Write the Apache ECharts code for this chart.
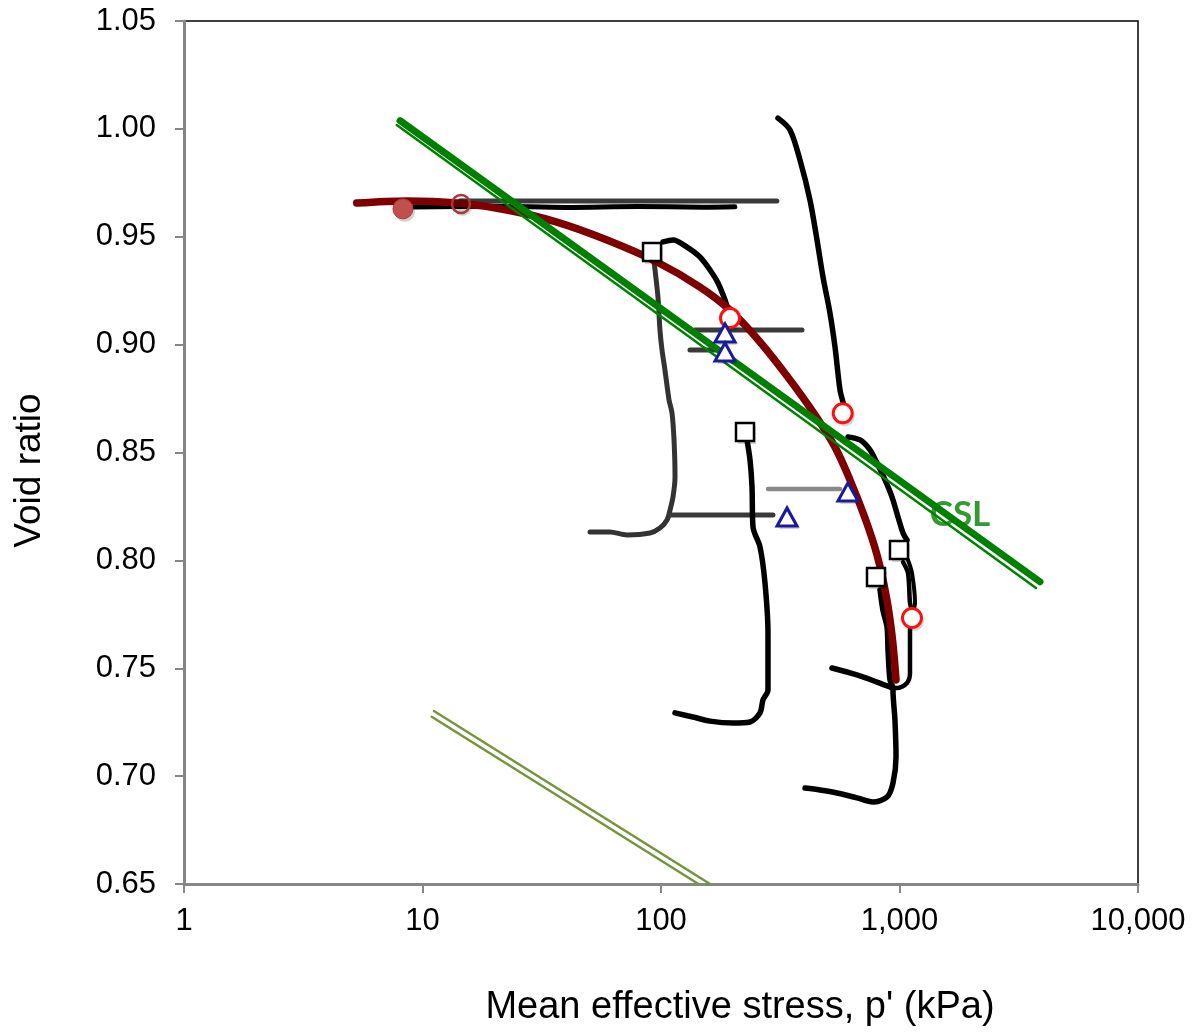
<!DOCTYPE html>
<html>
<head>
<meta charset="utf-8">
<script src="https://cdn.jsdelivr.net/npm/echarts@6/dist/echarts.min.js"></script>
<style>
html,body{margin:0;padding:0;background:#fff;}
#chart{width:1194px;height:1035px;}
</style>
</head>
<body>
<div id="chart"></div>
<script>
// ---- data (p' in kPa, void ratio e) ----
const xTickValues = [1, 10, 100, 1000, 10000];
const yMin = 0.65, yMax = 1.05, yStep = 0.05;

const redCurve = [[5.3,0.9656],[8.6,0.9666],[14,0.9656],[22.6,0.9624],[36.6,0.9568],[59.4,0.9485],[96.2,0.9383],[145.7,0.9267],[194.7,0.916],[260.1,0.9012],[347.5,0.8836],[442.3,0.8674],[536.5,0.8525],[620,0.8373],[716.8,0.8196],[805,0.8025],[878,0.784],[930,0.7654],[967,0.7446]];
const cslThick = [[8.05,1.0038],[3882,0.7901]];
const cslThin = [[7.80,1.0018],[3735,0.7872]];
const cslLabelPos = [[1794,0.821]];
const oliveUpper = [[11.17,0.7302],[160.6,0.65]];
const oliveLower = [[10.93,0.7275],[143.6,0.65]];

const grayTop = [[14.36,0.9666],[306,0.9666]];
const blackTop = [[9.12,0.9638],[20,0.9641],[40,0.9636],[80,0.9640],[150,0.9637],[204,0.9639]];
const pathB1 = [[102,0.9476],[112.3,0.9485],[128.5,0.9452],[145.7,0.9406],[160.5,0.9346],[173.4,0.9286],[185.5,0.9207],[190.9,0.916],[194.7,0.9123]];
const pathB2 = [[93.5,0.9383],[94.4,0.9346],[97.1,0.9221],[99.0,0.9068],[101,0.8975],[103.9,0.8882],[108.1,0.8743],[111.2,0.8683],[113.4,0.8558],[114.5,0.8386],[112.3,0.8294],[109.1,0.8233],[106,0.8187],[99,0.815],[89.9,0.8127],[72,0.8118],[61.1,0.8132],[50.4,0.8132]];
const grayMid = [[109.1,0.821],[294.8,0.821]];
const pathC = [[229.4,0.8558],[236.2,0.8465],[240.8,0.834],[243.1,0.8155],[260.1,0.8062],[272.9,0.7895],[280.9,0.7663],[280.9,0.7399],[267.7,0.7353],[260.1,0.7293],[236.2,0.7251],[200.4,0.7246],[160.5,0.7255],[136.2,0.7274],[114.5,0.7293]];
const grayD1 = [[138.8,0.9068],[390,0.9068]];
const grayD2 = [[132.3,0.8975],[168.4,0.8975]];
const lightGrayE = [[280.9,0.8331],[563,0.8331]];
const pathF1 = [[309.4,1.005],[347.5,0.9995],[382.6,0.9856],[421.4,0.967],[451,0.9485],[477.8,0.9313],[511,0.9147],[536.5,0.8989],[563,0.879],[579.6,0.8734]];
const pathF2 = [[608.2,0.8572],[683,0.8558],[752,0.8512],[805,0.8451],[869.6,0.8373],[930,0.8294],[985.6,0.8201],[1034.4,0.8127],[1075,0.8094]];
const pathF3a = [[1034.4,0.7992],[1085.5,0.7941],[1106.6,0.7802],[1128.4,0.7761],[1128,0.7733],[1106.6,0.7677],[1106.6,0.7478],[1075,0.7432],[976,0.7408],[939,0.7408]];
const pathF3b = [[1085.5,0.8002],[1128.4,0.7941],[1161.4,0.7802],[1139.4,0.7761]];
const pathF4 = [[828.5,0.7863],[853,0.7767],[886.5,0.7691],[895,0.7585],[912,0.7446],[939,0.7408],[939,0.7399],[957,0.726],[967,0.7089],[939,0.6968],[886.5,0.6903],[774,0.688],[663,0.6899],[547,0.6922],[464,0.6936],[401.6,0.6945]];
const pathF5 = [[521,0.7501],[663,0.7469],[805,0.7436],[939,0.7408]];

const squares = [[91.7,0.9429],[225,0.8595],[995,0.8048],[797,0.7923]];
const redCircles = [[194.7,0.9123],[578,0.8682],[1128,0.7733]];
const triangles = [[185.5,0.9054],[185.5,0.8966],[337.6,0.8201],[608,0.8317]];
const filledCircle = [[8.28,0.9629]];
const openDarkCircle = [[14.5,0.9652]];

// ---- chart ----
const FONT = '"Liberation Sans", Arial, sans-serif';
function pathSeries(data, color, width, z) {
  return { type: 'line', data: data, symbol: 'none', smooth: 0.3, z: z || 3,
    lineStyle: { color: color, width: width, cap: 'round', join: 'round' }, silent: true, animation: false };
}
function shadowSeries(data, symbol, size) {
  return { type: 'scatter', data: data, symbol: symbol, symbolSize: size, symbolOffset: [2, 3], z: 6, silent: true,
    itemStyle: { color: 'rgba(0,0,0,0.15)', opacity: 1, shadowBlur: 5, shadowColor: 'rgba(0,0,0,0.35)' } };
}
function markerSeries(data, symbol, size, style) {
  return { type: 'scatter', data: data, symbol: symbol, symbolSize: size, z: 7, silent: true,
    itemStyle: Object.assign({ opacity: 1 }, style) };
}

const chart = echarts.init(document.getElementById('chart'), null, { renderer: 'canvas' });
chart.setOption({
  animation: false,
  backgroundColor: '#fff',
  grid: { left: 184, right: 56, top: 21, bottom: 151, show: true, borderColor: '#000', borderWidth: 1.5, backgroundColor: 'transparent' },
  xAxis: {
    type: 'log', logBase: 10, min: xTickValues[0], max: xTickValues[xTickValues.length - 1],
    axisLine: { lineStyle: { color: '#868686', width: 3 } },
    axisTick: { show: true, inside: false, length: 9, lineStyle: { color: '#868686', width: 2 } },
    minorTick: { show: false },
    splitLine: { show: false },
    axisLabel: { color: '#000', fontFamily: FONT, fontSize: 31, margin: 22,
      formatter: v => Number(v).toLocaleString('en-US') },
    name: "Mean effective stress, p' (kPa)", nameLocation: 'middle', nameGap: 105,
    nameTextStyle: { color: '#000', fontFamily: FONT, fontSize: 38, padding: [0, 0, 0, 158] }
  },
  yAxis: {
    type: 'value', min: yMin, max: yMax, interval: yStep,
    axisLine: { show: true, lineStyle: { color: '#868686', width: 3 } },
    axisTick: { show: true, inside: false, length: 9, lineStyle: { color: '#868686', width: 2 } },
    splitLine: { show: false },
    axisLabel: { color: '#000', fontFamily: FONT, fontSize: 31, margin: 28,
      formatter: v => Number(v).toFixed(2) },
    name: 'Void ratio', nameLocation: 'middle', nameGap: 136, nameRotate: 90,
    nameTextStyle: { color: '#000', fontFamily: FONT, fontSize: 37, padding: [0, 36, 0, 0] }
  },
  series: [
    pathSeries(oliveUpper, '#77933C', 2.5, 2),
    pathSeries(oliveLower, '#77933C', 2.5, 2),
    pathSeries(grayTop, '#3a3a3a', 5, 3),
    pathSeries(blackTop, '#000', 5, 3),
    pathSeries(pathB1, '#000', 5.5, 3),
    pathSeries(pathB2, '#333', 5, 3),
    pathSeries(grayMid, '#3a3a3a', 5, 3),
    pathSeries(pathC, '#000', 5.5, 3),
    pathSeries(grayD1, '#3a3a3a', 5, 3),
    pathSeries(grayD2, '#3a3a3a', 5, 3),
    pathSeries(lightGrayE, '#888', 4.5, 3),
    pathSeries(pathF1, '#000', 5.5, 3),
    pathSeries(pathF2, '#000', 5.5, 3),
    pathSeries(pathF3a, '#000', 4.5, 3),
    pathSeries(pathF3b, '#000', 4, 3),
    pathSeries(pathF4, '#000', 5.5, 3),
    pathSeries(pathF5, '#000', 5.5, 3),
    Object.assign(pathSeries(redCurve, '#7F0000', 7.5, 4), { smooth: 0.35 }),
    Object.assign(pathSeries(cslThick, '#008000', 7, 5), { smooth: false }),
    Object.assign(pathSeries(cslThin, '#008000', 2.5, 5), { smooth: false }),
    { type: 'scatter', data: cslLabelPos, symbolSize: 0, z: 6, silent: true,
      label: { show: true, position: 'inside', formatter: 'CSL', color: '#008000',
        fontFamily: 'Lato, "Open Sans", sans-serif', fontWeight: 'bold', fontSize: 35 } },
    shadowSeries(squares, 'rect', 18),
    shadowSeries(redCircles, 'circle', 20),
    shadowSeries(triangles, 'triangle', [20, 18]),
    shadowSeries(filledCircle, 'circle', 20),
    shadowSeries(openDarkCircle, 'circle', 18),
    markerSeries(squares, 'rect', 18, { color: '#fff', borderColor: '#000', borderWidth: 2.5 }),
    markerSeries(redCircles, 'circle', 19, { color: '#fff', borderColor: '#FF1010', borderWidth: 3 }),
    markerSeries(triangles, 'triangle', [20, 18], { color: '#fff', borderColor: '#1a1a9c', borderWidth: 3 }),
    markerSeries(filledCircle, 'circle', 20, { color: '#C0504D', borderColor: '#B0403D', borderWidth: 1 }),
    markerSeries(openDarkCircle, 'circle', 18, { color: 'rgba(255,255,255,0)', borderColor: '#A33A37', borderWidth: 2.5 })
  ]
});
</script>
</body>
</html>
